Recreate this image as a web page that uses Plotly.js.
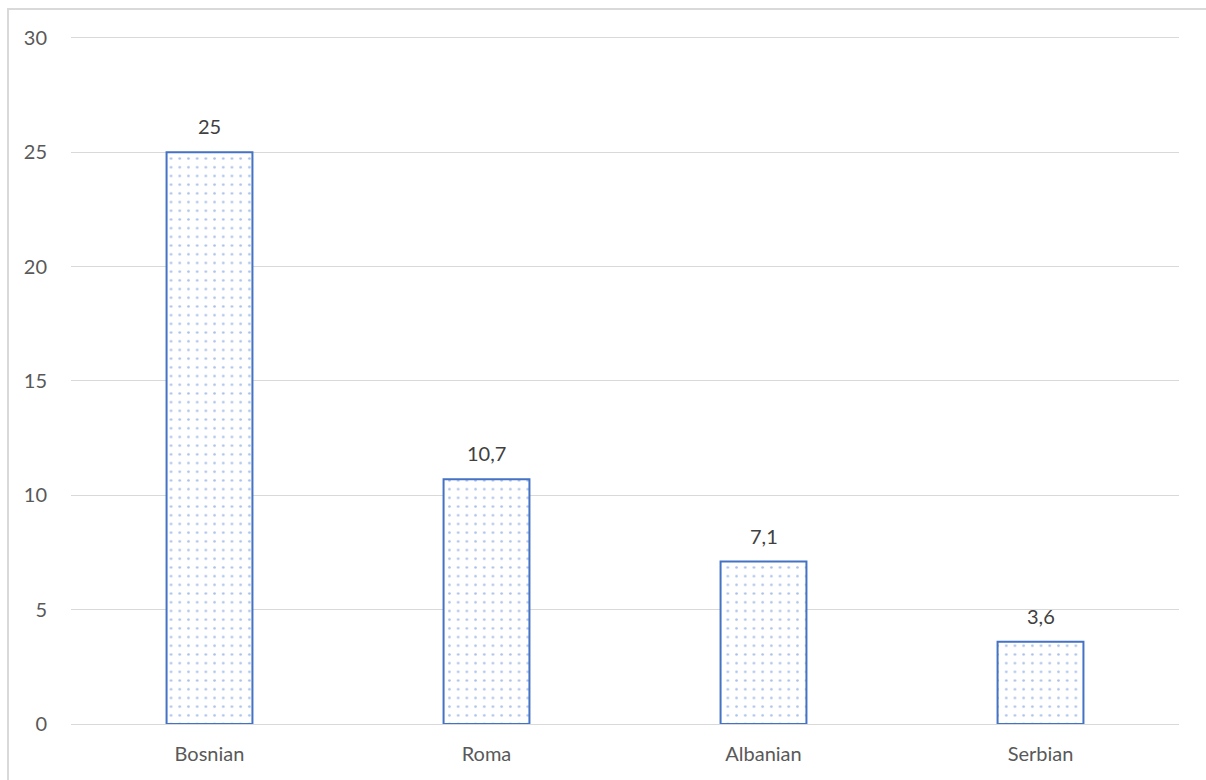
<!DOCTYPE html>
<html>
<head>
<meta charset="utf-8">
<script src="https://cdn.plot.ly/plotly-3.0.1.min.js"></script>
<style>
  html, body { margin: 0; padding: 0; background: #ffffff; }
  #frame {
    position: absolute; left: 7px; top: 8px; width: 1199px; height: 772px;
    border-left: 2px solid #d9d9d9; border-top: 2px solid #d9d9d9;
    box-sizing: border-box;
  }
  #chart { position: absolute; left: 0; top: 0; width: 1206px; height: 780px; }
</style>
</head>
<body>
<div id="frame"></div>
<div id="chart"></div>
<script>
// Groups and their percentages
const groups = ["Bosnian", "Roma", "Albanian", "Serbian"];
const values = [25, 10.7, 7.1, 3.6];
const yTicks = [0, 5, 10, 15, 20, 25, 30];

const fontFamily = "Lato, 'Open Sans', sans-serif";
const fmt = v => String(v).replace(".", ",");

const trace = {
  type: "bar",
  x: groups,
  y: values,
  marker: {
    color: "#ffffff",
    line: { color: "#4472c4", width: 2 },
    pattern: { shape: ".", fgcolor: "#a9c0e8", bgcolor: "#ffffff", size: 8.7, solidity: 0.07 }
  },
  hoverinfo: "skip"
};

// Value labels floating above each bar
const labels = groups.map((g, i) => ({
  x: g,
  y: values[i],
  text: fmt(values[i]),
  showarrow: false,
  xref: "x",
  yref: "y",
  yanchor: "middle",
  yshift: 26,
  font: { family: fontFamily, size: 20, color: "#404040" }
}));

const layout = {
  width: 1206,
  height: 780,
  // a little headroom above the top tick so its gridline is drawn
  margin: { l: 71, r: 27, t: 15, b: 56 },
  paper_bgcolor: "rgba(0,0,0,0)",
  plot_bgcolor: "rgba(0,0,0,0)",
  bargap: 0.69,
  showlegend: false,
  font: { family: fontFamily, size: 20, color: "#595959" },
  annotations: labels,
  xaxis: {
    showgrid: false,
    showline: true,
    linecolor: "#d9d9d9",
    linewidth: 1,
    ticks: "",
    ticklabelstandoff: 12,
    tickfont: { size: 20, color: "#595959" }
  },
  yaxis: {
    range: [0, 31],
    tickvals: yTicks,
    ticktext: yTicks.map(String),
    showgrid: true,
    gridcolor: "#d9d9d9",
    gridwidth: 1,
    zeroline: true,
    zerolinecolor: "#d9d9d9",
    zerolinewidth: 1,
    showline: false,
    ticks: "",
    ticklabelstandoff: 23,
    tickfont: { size: 20, color: "#595959" }
  }
};

Plotly.newPlot("chart", [trace], layout, { displayModeBar: false, staticPlot: true });
</script>
</body>
</html>
